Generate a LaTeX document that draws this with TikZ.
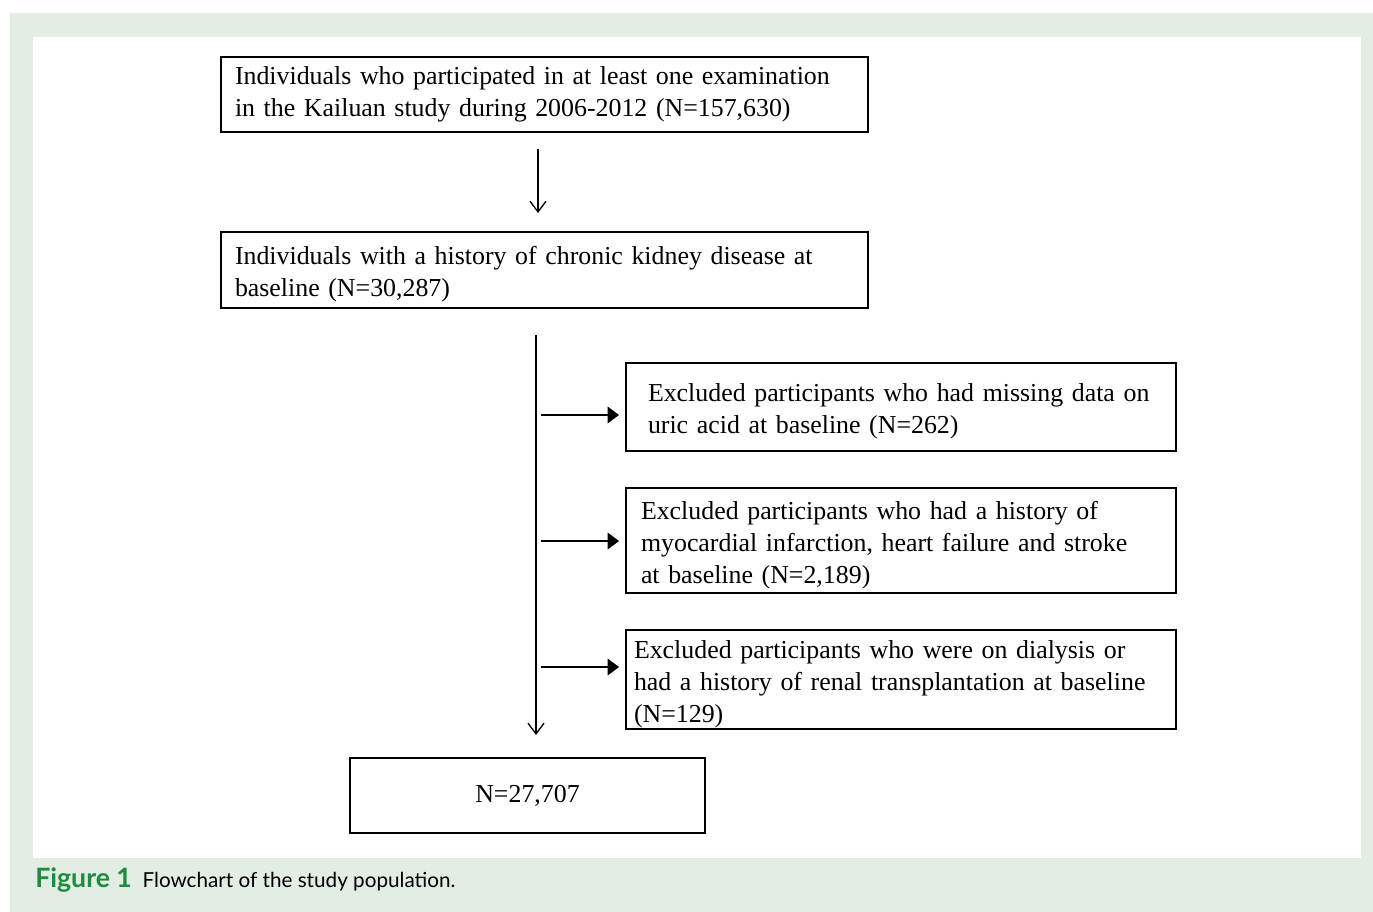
\documentclass[tikz,border=0pt]{standalone}
\usepackage{fontspec}
\setmainfont{Liberation Serif}
\newfontfamily\capfont{Lato}
\usepackage{xcolor}
\usetikzlibrary{arrows.meta}
\definecolor{panelgreen}{HTML}{E2EDE4}
\definecolor{figgreen}{HTML}{1E8C3C}

\begin{document}
\begin{tikzpicture}[x=0.75pt,y=-0.75pt,
  flowbox/.style={draw,line width=1.5pt,anchor=north west,inner ysep=0pt,
    align=left,font=\fontsize{19.4}{24}\selectfont},
  lowtext/.style={execute at begin node={\rule{0pt}{20pt}}},
  openarrow/.style={line width=1pt,-{Straight Barb[length=8pt,width=12pt]}},
  fillarrow/.style={line width=1pt,-{Triangle[length=8.5pt,width=12.5pt]}}]
\useasboundingbox (0,0) rectangle (1373,912);
% background panels
\fill[white] (0,0) rectangle (1373,912);
\fill[panelgreen] (10,13) rectangle (1373,912);
\fill[white] (33,37) rectangle (1361,858);
% boxes
\node[flowbox,minimum width={647*0.75pt},minimum height={75*0.75pt},
  inner xsep={14*0.75pt},text width={619*0.75pt}] (allppl) at (220,56)
  {Individuals who participated in at least one examination\\in the Kailuan study during 2006-2012 (N=157,630)};
\node[flowbox,lowtext,minimum width={647*0.75pt},minimum height={76*0.75pt},
  inner xsep={14*0.75pt},text width={619*0.75pt}] (ckd) at (220,231)
  {Individuals with a history of chronic kidney disease at\\baseline (N=30,287)};
\node[flowbox,lowtext,minimum width={550*0.75pt},minimum height={88*0.75pt},
  inner xsep={22*0.75pt},text width={506*0.75pt}] (exua) at (625,362)
  {Excluded participants who had missing data on\\uric acid at baseline (N=262)};
\node[flowbox,lowtext,minimum width={550*0.75pt},minimum height={105*0.75pt},
  inner xsep={15*0.75pt},text width={520*0.75pt}] (excvd) at (625,487)
  {Excluded participants who had a history of\\myocardial infarction, heart failure and stroke\\at baseline (N=2,189)};
\node[flowbox,lowtext,minimum width={550*0.75pt},minimum height={99*0.75pt},
  inner xsep={8*0.75pt},text width={534*0.75pt}] (exdial) at (625,629)
  {Excluded participants who were on dialysis or\\had a history of renal transplantation at baseline\\(N=129)};
\node[flowbox,align=center,minimum width={355*0.75pt},minimum height={75*0.75pt}] (final) at (349,757)
  {N=27,707};
% connectors
\draw[openarrow] ([shift={(-6.5,16)}]allppl.south) -- ([shift={(-6.5,-18)}]ckd.north);
\draw[openarrow] ([shift={(-8.5,26)}]ckd.south) -- ([shift={(8.5,-22)}]final.north);
\draw[fillarrow] ([shift={(-84,8)}]exua.west) -- ([shift={(-6,8)}]exua.west);
\draw[fillarrow] ([shift={(-84,0.5)}]excvd.west) -- ([shift={(-6,0.5)}]excvd.west);
\draw[fillarrow] ([shift={(-84,-12.5)}]exdial.west) -- ([shift={(-6,-12.5)}]exdial.west);
% caption
\node[anchor=base west,inner sep=0pt,font=\capfont\fontsize{15.5}{18}\selectfont] (caption) at (35,887)
  {\textcolor{figgreen}{\fontsize{20}{22}\selectfont\bfseries Figure 1}\hspace{8pt}Flowchart of the study population.};
\end{tikzpicture}
\end{document}
